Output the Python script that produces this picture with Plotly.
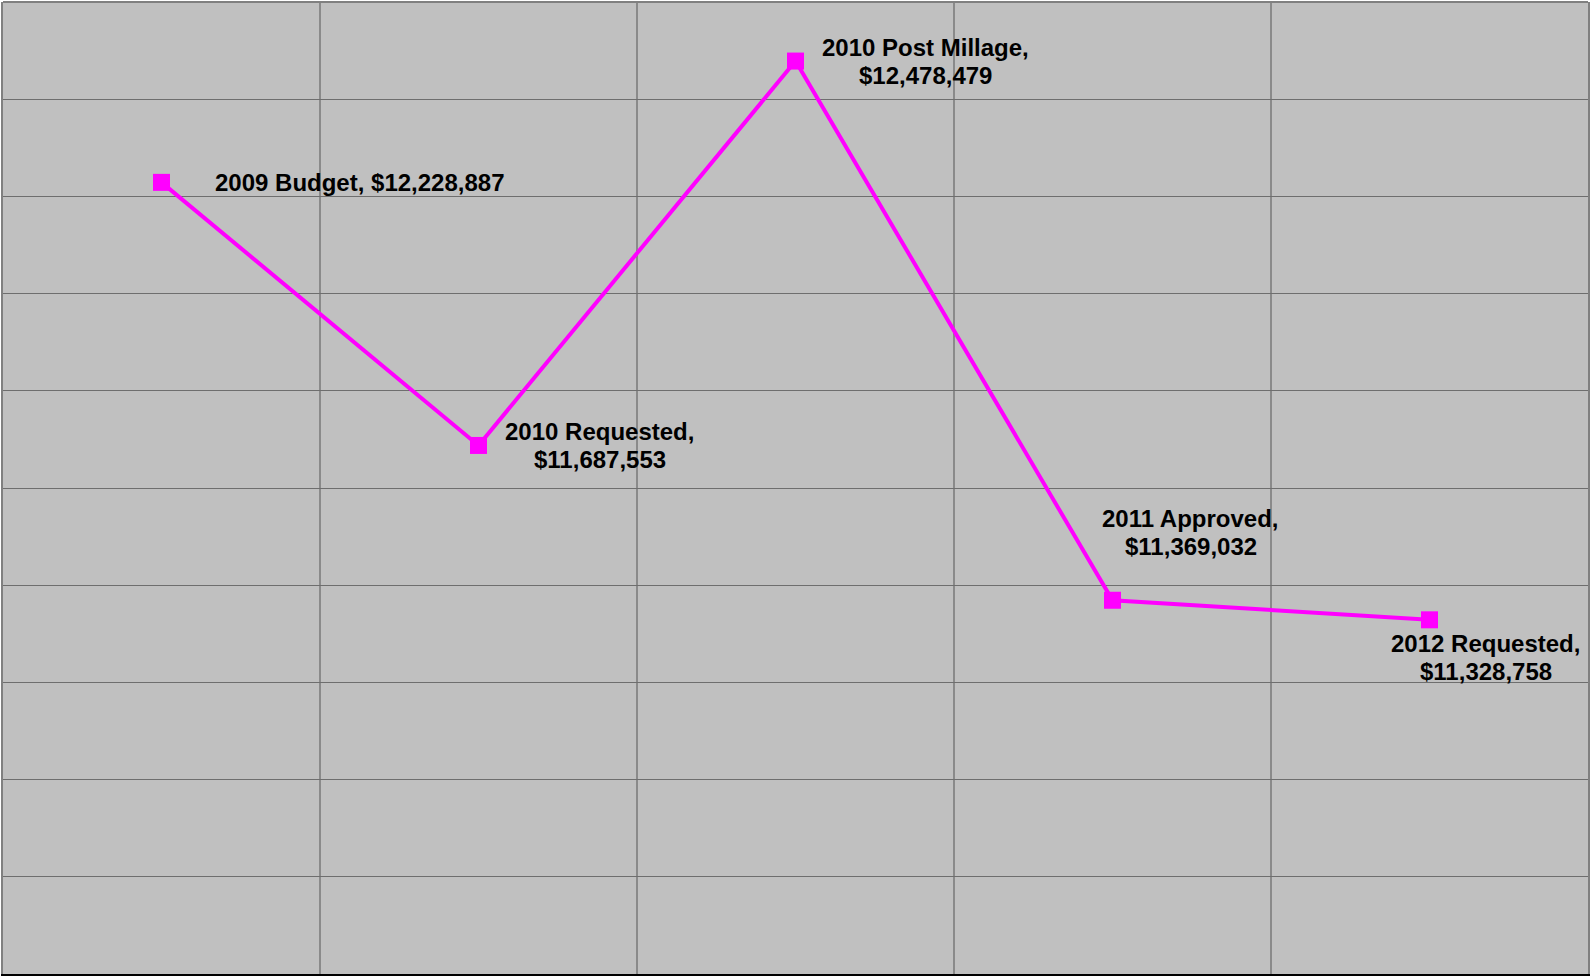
import plotly.graph_objects as go

categories = ["2009 Budget", "2010 Requested", "2010 Post Millage", "2011 Approved", "2012 Requested"]
values = [12228887, 11687553, 12478479, 11369032, 11328758]
# whether the label wraps to two lines
label_wrap = [False, True, True, True, True]

# label offsets in pixels (style, not data)
label_shift = [(198, 0), (121, 0), (130, 0), (78, 68), (56, -38)]
LINE_GAP = 28

fig = go.Figure()
fig.add_trace(go.Scatter(
    x=categories, y=values, mode="lines+markers",
    line=dict(color="#FF00FF", width=4),
    marker=dict(symbol="square", size=17, color="#FF00FF"),
    hoverinfo="skip", showlegend=False,
))

font = dict(family="Liberation Sans, Arial, sans-serif", size=24, color="black", weight="bold")
for cat, val, wrap, (dx, dy) in zip(categories, values, label_wrap, label_shift):
    if wrap:
        lines = [(f"{cat},", dy + LINE_GAP / 2), (f"${val:,}", dy - LINE_GAP / 2)]
    else:
        lines = [(f"{cat}, ${val:,}", dy)]
    for txt, ys in lines:
        fig.add_annotation(
            x=cat, y=val, xref="x", yref="y", text=txt,
            showarrow=False, xanchor="center", yanchor="middle",
            xshift=dx, yshift=ys, align="center", font=font,
        )

fig.add_shape(type="line", xref="paper", yref="paper", x0=0, x1=1, y0=1, y1=1,
              line=dict(color="#808080", width=2), layer="above")

fig.update_layout(
    width=1590, height=976,
    margin=dict(l=3, r=0, t=2, b=2),
    paper_bgcolor="white", plot_bgcolor="#C0C0C0",
    xaxis=dict(type="category", tickson="boundaries", showgrid=True, gridcolor="#8a8a8a", gridwidth=1.5,
               showticklabels=False, ticks="", showline=True, linecolor="black", linewidth=2,
               range=[-0.5, 4.5], zeroline=False),
    yaxis=dict(range=[10600000, 12600000], dtick=200000, showgrid=True, gridcolor="#6e6e6e", gridwidth=1,
               showticklabels=False, ticks="", showline=True, linecolor="#808080", linewidth=2, mirror=True,
               zeroline=False),
)

fig.write_html("out.html", config={"displayModeBar": False},
               post_script="document.body.style.margin='0';document.body.style.overflow='hidden';")
